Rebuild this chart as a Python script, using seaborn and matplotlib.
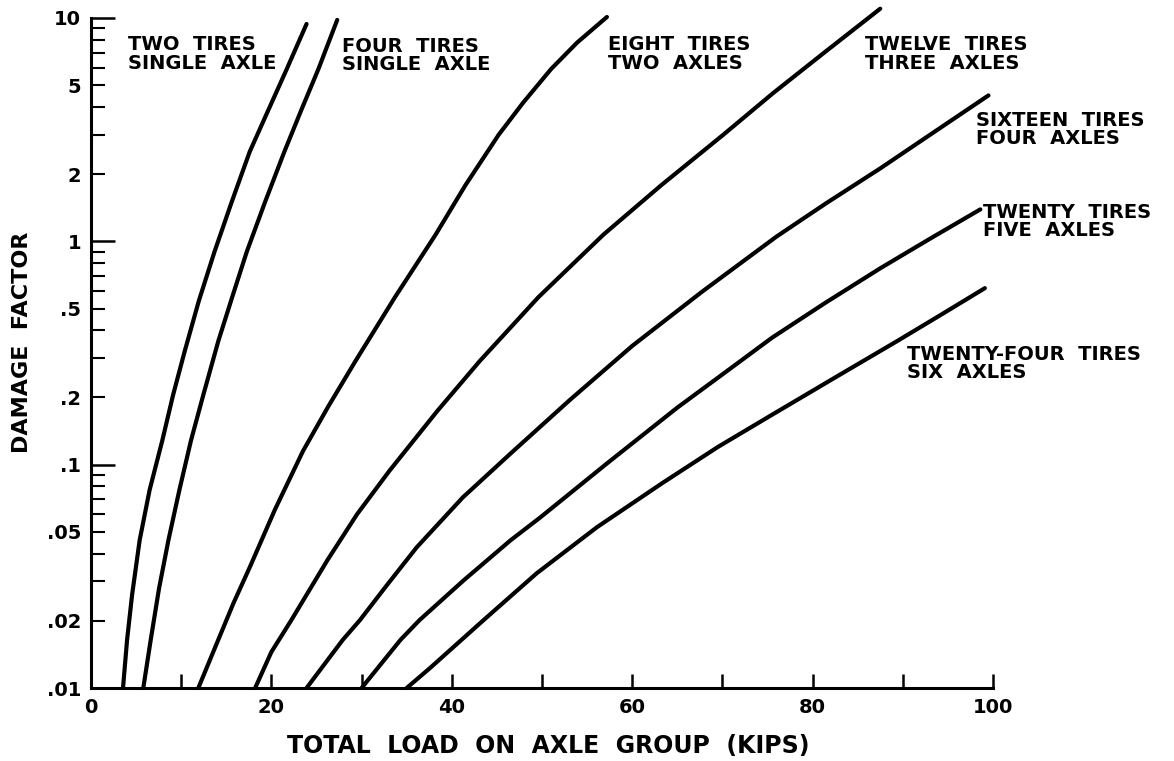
import matplotlib
matplotlib.use("Agg")
import pandas as pd
import matplotlib.pyplot as plt
import seaborn as sns
from matplotlib.ticker import FixedLocator, FixedFormatter

# curves: total load (kips) vs damage factor
two_x = [3.55, 4.0, 4.55, 5.4, 6.5, 7.9, 9.1, 10.4, 11.95, 13.7, 15.6, 17.6, 19.7, 21.7, 23.9]
two_y = [0.01, 0.0164, 0.026, 0.046, 0.077, 0.128, 0.205, 0.323, 0.54, 0.90, 1.5, 2.52, 3.9, 5.9, 9.4]

four_x = [5.8, 6.62, 7.55, 8.59, 9.8, 11.08, 12.45, 14.12, 15.7, 17.28, 19.3, 21.44, 23.35, 25.21, 27.3]
four_y = [0.01, 0.0164, 0.028, 0.046, 0.077, 0.128, 0.205, 0.358, 0.57, 0.90, 1.5, 2.52, 3.9, 5.9, 9.8]

eight_x = [11.9, 14.1, 15.8, 17.6, 20.4, 23.5, 26.3, 29.3, 33.7, 38.2, 41.5, 45.2, 47.9, 51.0, 53.9, 57.2]
eight_y = [0.01, 0.0164, 0.024, 0.0347, 0.063, 0.115, 0.182, 0.29, 0.562, 1.07, 1.78, 3.0, 4.17, 5.9, 7.76, 10.1]

twelve_x = [18.2, 20.0, 22.2, 26.2, 29.5, 33.1, 38.4, 43.1, 49.6, 56.8, 63.2, 70.1, 75.6, 81.3, 87.5]
twelve_y = [0.01, 0.0145, 0.0201, 0.0373, 0.060, 0.094, 0.174, 0.291, 0.562, 1.07, 1.78, 3.0, 4.6, 7.0, 11.0]

sixteen_x = [23.9, 27.9, 29.8, 32.9, 36.1, 41.2, 46.5, 53.1, 60.0, 67.8, 76.0, 81.5, 87.5, 93.5, 99.5]
sixteen_y = [0.01, 0.0164, 0.0201, 0.0292, 0.0426, 0.0712, 0.112, 0.195, 0.34, 0.597, 1.05, 1.48, 2.12, 3.09, 4.5]

twenty_x = [30.0, 34.3, 36.4, 41.3, 46.5, 49.8, 57.3, 65.0, 70.2, 75.5, 81.4, 87.5, 93.0, 98.6]
twenty_y = [0.01, 0.0164, 0.0201, 0.0303, 0.0458, 0.058, 0.102, 0.18, 0.257, 0.37, 0.53, 0.757, 1.026, 1.39]

twentyfour_x = [35.0, 37.6, 43.5, 49.4, 56.1, 63.4, 69.5, 75.8, 82.6, 89.4, 94.2, 99.1]
twentyfour_y = [0.01, 0.0123, 0.0201, 0.0326, 0.0525, 0.083, 0.12, 0.17, 0.247, 0.358, 0.468, 0.617]

curve_names = ["TWO  TIRES\nSINGLE  AXLE", "FOUR  TIRES\nSINGLE  AXLE",
               "EIGHT  TIRES\nTWO  AXLES", "TWELVE  TIRES\nTHREE  AXLES",
               "SIXTEEN  TIRES\nFOUR  AXLES", "TWENTY  TIRES\nFIVE  AXLES",
               "TWENTY-FOUR  TIRES\nSIX  AXLES"]
curve_x = [two_x, four_x, eight_x, twelve_x, sixteen_x, twenty_x, twentyfour_x]
curve_y = [two_y, four_y, eight_y, twelve_y, sixteen_y, twenty_y, twentyfour_y]

# where each curve's caption sits (data coords, left edge / vertical centre)
label_x = [4.1, 27.8, 57.3, 85.8, 98.1, 98.9, 90.5]
label_y = [6.9, 6.8, 6.9, 6.9, 3.16, 1.23, 0.283]

y_major = [0.01, 0.1, 1, 10]
y_major_labels = [".01", ".1", "1", "10"]
x_major = [0, 20, 40, 60, 80, 100]
x_minor = [10, 30, 50, 70, 90]

frames = []
for name, xs, ys in zip(curve_names, curve_x, curve_y):
    frames.append(pd.DataFrame({"load": xs, "damage": ys, "curve": name}))
df = pd.concat(frames, ignore_index=True)

sns.set_style("ticks")
plt.rcParams["font.family"] = ["DejaVu Sans"]
plt.rcParams["font.weight"] = "bold"
for key in ["text.color", "axes.labelcolor", "xtick.color", "ytick.color", "axes.edgecolor"]:
    plt.rcParams[key] = "black"

fig = plt.figure(figsize=(11.74, 7.61), dpi=100)
ax = fig.add_axes([0.0775, 0.0959, 0.7683, 0.8805])

sns.lineplot(data=df, x="load", y="damage", hue="curve",
             palette=["black"] * len(curve_names), legend=False,
             estimator=None, sort=False, linewidth=3.0, clip_on=False, ax=ax)

ax.set_yscale("log")
ax.set_xlim(0, 100)
ax.set_ylim(0.01, 10)

# y ticks: long ticks at decades, short ones at 2..9, labels at 2 and 5
ax.yaxis.set_major_locator(FixedLocator(y_major))
ax.yaxis.set_major_formatter(FixedFormatter(y_major_labels))
minor_pos, minor_lab = [], []
for dec in [0.01, 0.1, 1]:
    for k in range(2, 10):
        minor_pos.append(k * dec)
        if k in (2, 5):
            minor_lab.append(("%g" % (k * dec)).lstrip("0"))
        else:
            minor_lab.append("")
ax.yaxis.set_minor_locator(FixedLocator(minor_pos))
ax.yaxis.set_minor_formatter(FixedFormatter(minor_lab))

ax.xaxis.set_major_locator(FixedLocator(x_major))
ax.xaxis.set_minor_locator(FixedLocator(x_minor))

ax.tick_params(axis="y", which="major", direction="in", length=17, width=1.8,
               labelsize=14, pad=7)
ax.tick_params(axis="y", which="minor", direction="in", length=10, width=1.5,
               labelsize=14, pad=7)
ax.tick_params(axis="x", which="both", direction="in", length=10, width=1.8,
               labelsize=14, pad=7)

for side in ["top", "right"]:
    ax.spines[side].set_visible(False)
for side in ["left", "bottom"]:
    ax.spines[side].set_linewidth(2.2)

ax.set_xlabel("TOTAL  LOAD  ON  AXLE  GROUP  (KIPS)", fontsize=17, fontweight="bold")
ax.set_ylabel("DAMAGE  FACTOR", fontsize=16, fontweight="bold")
ax.xaxis.set_label_coords(0.507, -0.069)
ax.yaxis.set_label_coords(-0.0654, 0.516)

for name, lx, ly in zip(curve_names, label_x, label_y):
    ax.text(lx, ly, name, fontsize=14, fontweight="bold", ha="left", va="center",
            linespacing=0.95, clip_on=False)

fig.savefig("out.png", dpi=100, facecolor="white")
